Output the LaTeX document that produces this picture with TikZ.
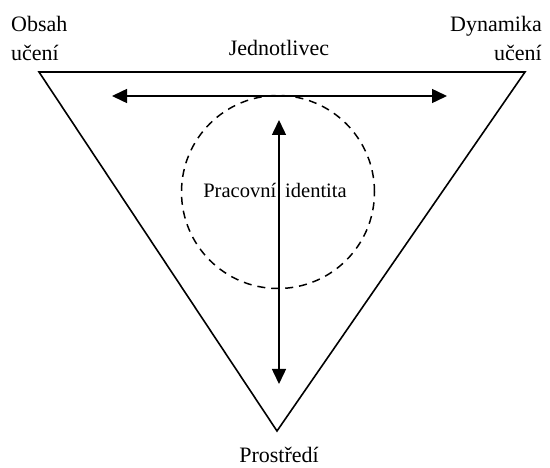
\documentclass[tikz,border=0pt]{standalone}
\usepackage{fontspec}
\setmainfont{Liberation Serif}
\usetikzlibrary{arrows.meta}
\begin{document}
\begin{tikzpicture}[x=1pt,y=-1pt,
  lbl/.style={inner sep=0pt,font=\fontsize{22}{29}\selectfont},
  small/.style={inner sep=0pt,font=\fontsize{20.5}{24}\selectfont},
  frame/.style={line width=1.6pt,line join=miter},
  link/.style={line width=1.5pt,{Triangle[length=15pt,width=14pt]}-{Triangle[length=15pt,width=14pt]}},
  ring/.style={line width=1.5pt,dash pattern=on 8pt off 6pt}]
\useasboundingbox (0,0) rectangle (550,468);

% triangle corners
\coordinate (tl) at (39,72);
\coordinate (tr) at (525,72);
\coordinate (bt) at (277,431);
\draw[frame] (tl) -- (tr) -- (bt) -- cycle;

% dashed circle round the centre label
\node[draw,circle,ring,minimum size=193pt,inner sep=0pt] (core) at (278,192) {};

% arrow ends
\coordinate (hl) at (112,96);
\coordinate (hr) at (447,96);
\coordinate (vt) at (279,120);
\coordinate (vb) at (279,384);
\draw[link] (hl) -- (hr);
\draw[link] (vt) -- (vb);

% labels (base anchor sits on the last line)
\node[lbl,anchor=base west,align=left] (obsah) at (11,61) {Obsah\\učení};
\node[lbl,anchor=base east,align=right] (dyn) at (542,61) {Dynamika\\učení};
\node[lbl,anchor=base] (jedn) at (279,56) {Jednotlivec};
\node[lbl,anchor=base] (prost) at (279,462) {Prostředí};
\node[small,anchor=base] (ident) at (275,198) {Pracovní\hspace{9pt}identita};
\end{tikzpicture}
\end{document}
